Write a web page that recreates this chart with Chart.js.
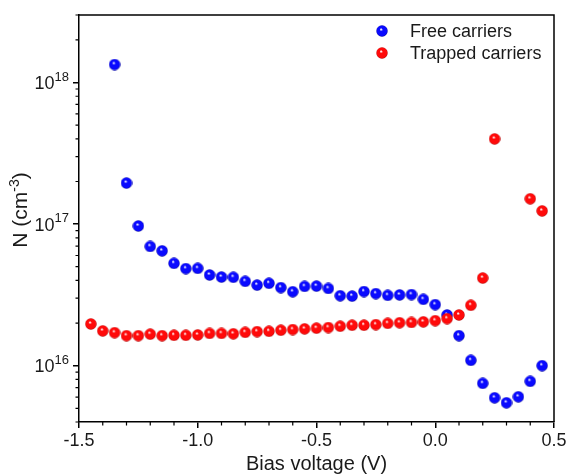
<!DOCTYPE html>
<html><head><meta charset="utf-8">
<script src="https://cdn.jsdelivr.net/npm/chart.js@4/dist/chart.umd.min.js"></script>
<style>html,body{margin:0;padding:0;background:#fff}</style>
</head><body>
<canvas id="c" width="569" height="475"></canvas>
<script>
const voltages = [-1.45,-1.40,-1.35,-1.30,-1.25,-1.20,-1.15,-1.10,-1.05,-1.00,-0.95,-0.90,-0.85,-0.80,-0.75,-0.70,-0.65,-0.60,-0.55,-0.50,-0.45,-0.40,-0.35,-0.30,-0.25,-0.20,-0.15,-0.10,-0.05,0.00,0.05,0.10,0.15,0.20,0.25,0.30,0.35,0.40,0.45];
const freeCarriers = [null,null,1.34e18,1.95e17,9.7e16,6.95e16,6.47e16,5.28e16,4.85e16,4.87e16,4.37e16,4.23e16,4.21e16,3.94e16,3.71e16,3.82e16,3.56e16,3.33e16,3.63e16,3.65e16,3.51e16,3.12e16,3.10e16,3.34e16,3.23e16,3.14e16,3.16e16,3.18e16,2.94e16,2.70e16,2.28e16,1.63e16,1.09e16,7.5e15,5.93e15,5.47e15,6.03e15,7.75e15,1.0e16];
const trappedCarriers = [1.97e16,1.76e16,1.71e16,1.63e16,1.63e16,1.67e16,1.63e16,1.64e16,1.64e16,1.65e16,1.69e16,1.69e16,1.68e16,1.72e16,1.74e16,1.75e16,1.78e16,1.80e16,1.82e16,1.84e16,1.86e16,1.90e16,1.93e16,1.93e16,1.95e16,1.99e16,2.01e16,2.02e16,2.04e16,2.08e16,2.15e16,2.28e16,2.67e16,4.16e16,4.0e17,null,null,1.51e17,1.24e17];
const seriesLabels = ['Free carriers','Trapped carriers'];
const xTickValues = [-1.5,-1.0,-0.5,0.0,0.5];
const yTickExponents = [16,17,18];

function sphere(color, dark) {
  const d = 12, c = document.createElement('canvas');
  c.width = c.height = d;
  const g = c.getContext('2d');
  const gr = g.createRadialGradient(d*0.42, d*0.36, 0.3, d/2, d/2, d/2);
  gr.addColorStop(0, '#ffffff');
  gr.addColorStop(0.25, color);
  gr.addColorStop(0.8, color);
  gr.addColorStop(1, dark);
  g.fillStyle = gr;
  g.beginPath(); g.arc(d/2, d/2, d/2 - 0.3, 0, Math.PI*2); g.fill();
  return c;
}
const blueBall = sphere('#0a0aff', '#00008a');
const redBall = sphere('#ff0a0a', '#a00000');

const toPts = arr => voltages.map((v,i) => ({x: v, y: arr[i]})).filter(p => p.y !== null);

const FONT = 'Arial, "Liberation Sans", sans-serif';
const TXT = '#1a1a1a';

const deco = {
  id: 'deco',
  afterDraw(chart) {
    const ctx = chart.ctx, a = chart.chartArea;
    const xs = chart.scales.x, ys = chart.scales.y;
    ctx.save();
    ctx.strokeStyle = '#000'; ctx.lineWidth = 1.5;
    ctx.beginPath();
    ctx.moveTo(a.left, a.top); ctx.lineTo(a.right, a.top); ctx.lineTo(a.right, a.bottom);
    ctx.stroke();
    ctx.lineWidth = 1.2;
    ctx.beginPath();
    for (let k = -15; k <= 5; k++) {
      if (k % 5 === 0) continue;
      const px = xs.getPixelForValue(k/10);
      ctx.moveTo(px, a.bottom); ctx.lineTo(px, a.bottom + 3.5);
    }
    for (let e = 15; e <= 18; e++) {
      for (let m = 2; m <= 9; m++) {
        const v = m * Math.pow(10, e);
        if (v < ys.min || v > ys.max) continue;
        const py = ys.getPixelForValue(v);
        ctx.moveTo(a.left, py); ctx.lineTo(a.left - 3.5, py);
      }
    }
    ctx.stroke();
    ctx.fillStyle = TXT;
    ctx.textBaseline = 'alphabetic';
    yTickExponents.forEach(e => {
      const py = ys.getPixelForValue(Math.pow(10, e));
      ctx.font = '13px ' + FONT;
      const sup = String(e);
      const w2 = ctx.measureText(sup).width;
      ctx.font = '18px ' + FONT;
      const w1 = ctx.measureText('10').width;
      const right = a.left - 10;
      ctx.textAlign = 'left';
      ctx.fillText('10', right - w2 - w1, py + 6.5);
      ctx.font = '13px ' + FONT;
      ctx.fillText(sup, right - w2, py - 2);
    });
    ctx.font = '20px ' + FONT;
    ctx.textAlign = 'center';
    ctx.fillText('Bias voltage (V)', (a.left + a.right)/2, 470);
    ctx.save();
    ctx.translate(27, 210);
    ctx.rotate(-Math.PI/2);
    const p1 = 'N (cm', p2 = '-3', p3 = ')';
    ctx.font = '21px ' + FONT; const w1 = ctx.measureText(p1).width, w3 = ctx.measureText(p3).width;
    ctx.font = '14px ' + FONT; const w2 = ctx.measureText(p2).width;
    let x0 = -(w1 + w2 + w3)/2;
    ctx.textAlign = 'left';
    ctx.font = '21px ' + FONT; ctx.fillText(p1, x0, 0);
    ctx.font = '14px ' + FONT; ctx.fillText(p2, x0 + w1, -8);
    ctx.font = '21px ' + FONT; ctx.fillText(p3, x0 + w1 + w2, 0);
    ctx.restore();
    const balls = [blueBall, redBall];
    ctx.font = '18px ' + FONT;
    ctx.textAlign = 'left'; ctx.textBaseline = 'middle';
    chart.data.datasets.forEach((ds, i) => {
      const yy = 31 + i * 22;
      ctx.drawImage(balls[i], 382 - 6, yy - 6);
      ctx.fillText(ds.label, 410, yy + 1);
    });
    ctx.restore();
  }
};

new Chart(document.getElementById('c'), {
  type: 'scatter',
  data: {
    datasets: [
      { label: seriesLabels[0], data: toPts(freeCarriers), pointStyle: blueBall, order: 1, showLine: false },
      { label: seriesLabels[1], data: toPts(trappedCarriers), pointStyle: redBall, order: 0, showLine: false }
    ]
  },
  options: {
    responsive: false,
    animation: false,
    layout: { padding: { top: 15, right: 15, left: 0, bottom: 0 } },
    plugins: { legend: { display: false }, tooltip: { enabled: false } },
    scales: {
      x: {
        type: 'linear', min: -1.5, max: 0.5,
        afterBuildTicks: s => { s.ticks = xTickValues.map(v => ({ value: v })); },
        afterFit: s => { s.height = 53; },
        grid: { drawOnChartArea: false, drawTicks: true, tickLength: 6, color: '#000', lineWidth: 1.5 },
        border: { display: true, color: '#000', width: 1.5 },
        ticks: { padding: 2, color: TXT, font: { family: FONT, size: 18 }, maxRotation: 0,
                 callback: v => Number(v).toFixed(1) }
      },
      y: {
        type: 'logarithmic', min: 4e15, max: 3e18,
        afterBuildTicks: s => { s.ticks = yTickExponents.map(e => ({ value: Math.pow(10, e), major: true })); },
        afterFit: s => { s.width = 79; },
        grid: { drawOnChartArea: false, drawTicks: true, tickLength: 6, color: '#000', lineWidth: 1.5 },
        border: { display: true, color: '#000', width: 1.5 },
        ticks: { display: true, color: 'rgba(0,0,0,0)', font: { size: 1 }, callback: () => '' }
      }
    }
  },
  plugins: [deco]
});
</script>
</body></html>
